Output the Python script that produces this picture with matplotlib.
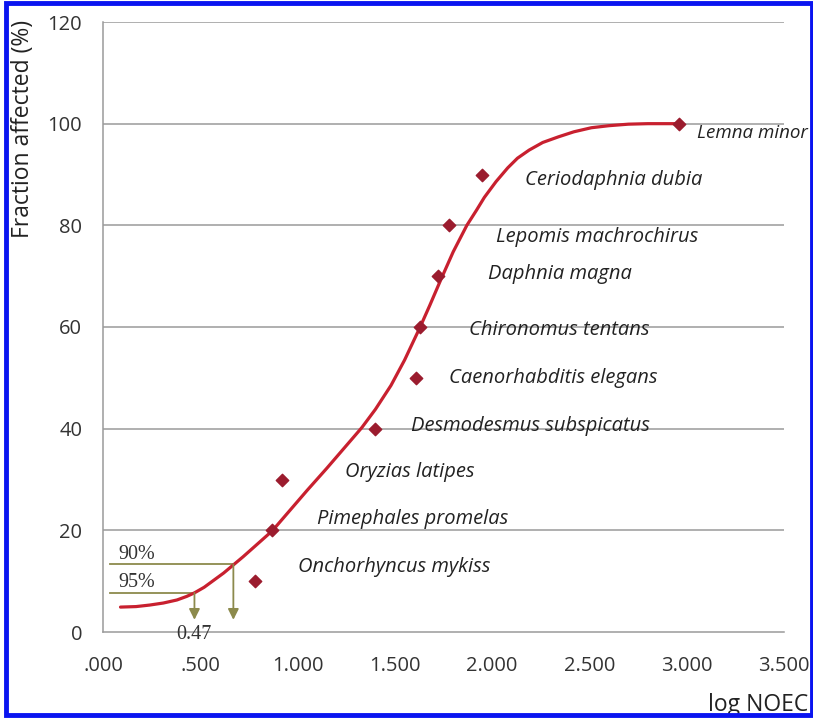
import numpy as np
import matplotlib.pyplot as plt
from matplotlib.patches import Rectangle

# species sensitivity data (log NOEC, fraction affected %)
species = ["Onchorhyncus mykiss", "Pimephales promelas", "Oryzias latipes",
           "Desmodesmus subspicatus", "Caenorhabditis elegans",
           "Chironomus tentans", "Daphnia magna", "Lepomis machrochirus",
           "Ceriodaphnia dubia", "Lemna minor"]
log_noec = [0.78, 0.87, 0.92, 1.40, 1.61, 1.63, 1.72, 1.78, 1.95, 2.96]
fraction = [10, 20, 30, 40, 50, 60, 70, 80, 90, 100]

# label anchor positions (left edge, vertical centre)
label_x = [1.00, 1.10, 1.245, 1.585, 1.78, 1.88, 1.98, 2.02, 2.17, 3.055]
label_y = [12.8, 22.2, 31.5, 40.5, 50.0, 59.4, 70.4, 77.7, 88.9, 98.2]

# fitted curve
curve_x = [0.09, 0.17, 0.24, 0.31, 0.38, 0.43, 0.47, 0.52, 0.57, 0.62,
           0.67, 0.72, 0.77, 0.82, 0.87, 0.96, 1.05, 1.15, 1.24, 1.33,
           1.40, 1.48, 1.55, 1.63, 1.68, 1.735, 1.80, 1.87, 1.92, 1.96,
           2.02, 2.08, 2.13, 2.19, 2.26, 2.34, 2.42, 2.51, 2.60, 2.70,
           2.80, 2.94]
curve_y = [4.9, 5.0, 5.3, 5.7, 6.3, 7.0, 7.7, 8.8, 10.2, 11.6,
           13.2, 14.8, 16.5, 18.2, 19.9, 23.9, 27.9, 32.2, 36.2, 40.2,
           43.8, 48.5, 53.5, 60.0, 64.3, 69.2, 74.8, 80.0, 83.0, 85.5,
           88.6, 91.3, 93.2, 94.8, 96.3, 97.4, 98.4, 99.2, 99.6, 99.9,
           100.0, 100.0]

# hazard concentration markers
hc_x = [0.47, 0.67]
hc_y = [7.7, 13.3]
hc_text = ["95%", "90%"]

xticks = [0, 0.5, 1.0, 1.5, 2.0, 2.5, 3.0, 3.5]
xtick_labels = [".000", ".500", "1.000", "1.500", "2.000", "2.500", "3.000", "3.500"]
yticks = [0, 20, 40, 60, 80, 100, 120]

W, H = 813, 718
fig = plt.figure(figsize=(W / 100, H / 100), dpi=100)
ax = fig.add_axes([103 / W, 86 / H, 681 / W, 610 / H])

for yt in yticks[1:]:
    ax.axhline(yt, color="#9a9a9a", lw=1.1, zorder=1)

ax.plot(curve_x, curve_y, color="#c8202f", lw=2.3, solid_joinstyle="round",
        solid_capstyle="round", zorder=3)
ax.scatter(log_noec, fraction, marker="D", s=40, color="#9b1c2e", zorder=4)

for name, lx, ly in zip(species, label_x, label_y):
    size = 13.5 if name == "Lemna minor" else 14.5
    ax.text(lx, ly, name, fontsize=size, style="italic", family="Open Sans",
            color="#222222", ha="left", va="center", clip_on=False)

olive = "#8c8a4c"
for x0, y0, t in zip(hc_x, hc_y, hc_text):
    ax.plot([0.036, x0], [y0, y0], color=olive, lw=1.3, zorder=2)
    ax.annotate("", xy=(x0, 2.4), xytext=(x0, y0),
                arrowprops=dict(arrowstyle="-|>", color=olive, lw=1.3,
                                mutation_scale=16, shrinkA=0, shrinkB=0))
    ax.text(0.08, y0 + 0.1, t, fontsize=14.5, family="Liberation Serif",
            color="#333333", ha="left", va="bottom")
ax.text(0.466, -0.4, "0.47", fontsize=14.5, family="Liberation Serif",
        color="#333333", ha="center", va="center", clip_on=False)

ax.set_xlim(0, 3.5)
ax.set_ylim(0, 120)
ax.set_xticks(xticks)
ax.set_xticklabels(xtick_labels)
ax.set_yticks(yticks)
ax.tick_params(length=0, labelsize=14.5, colors="#333333")
ax.tick_params(axis="x", pad=17)
ax.tick_params(axis="y", pad=15)
for lab in ax.get_xticklabels() + ax.get_yticklabels():
    lab.set_family("Open Sans")
for side in ["top", "right"]:
    ax.spines[side].set_visible(False)
for side in ["left", "bottom"]:
    ax.spines[side].set_color("#9a9a9a")
    ax.spines[side].set_linewidth(1.1)

fig.text(23 / W, 1 - 20 / H, "Fraction affected (%)", rotation=90,
         fontsize=16.5, family="Open Sans", color="#222222",
         ha="center", va="top")
fig.text(808 / W, 13 / H, "log NOEC", fontsize=16.5, family="Open Sans",
         color="#222222", ha="right", va="center")

fig.patches.append(Rectangle((5.5 / W, 3 / H), 806 / W, 712 / H,
                             transform=fig.transFigure, fill=False,
                             edgecolor="#0a14f0", lw=3.5, zorder=10))

fig.savefig("out.png", dpi=100)
